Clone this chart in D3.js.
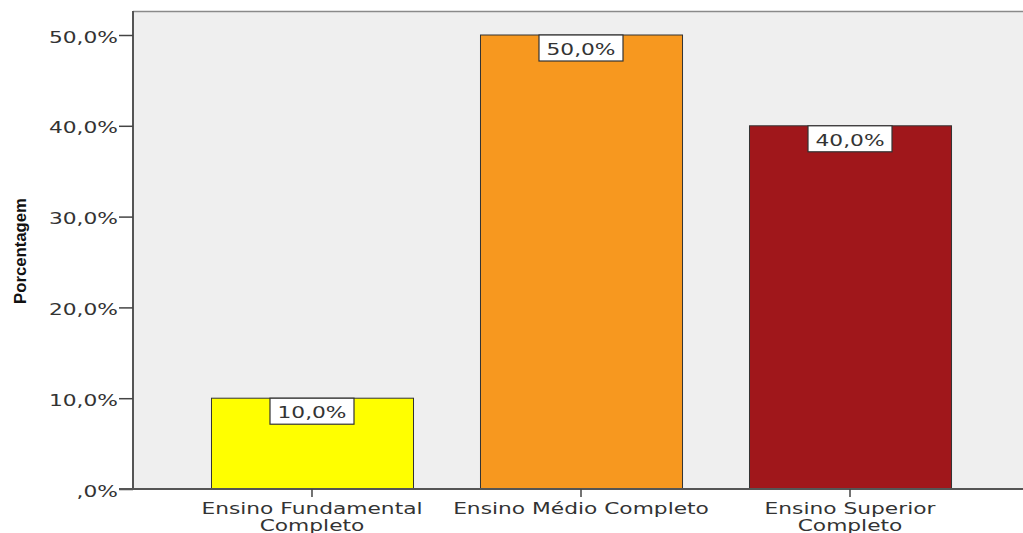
<!DOCTYPE html>
<html><head><meta charset="utf-8">
<script src="https://cdn.jsdelivr.net/npm/d3@7"></script>
<style>html,body{margin:0;padding:0;background:#fff;overflow:hidden}</style>
</head><body>
<svg id="c" width="1023" height="533"></svg>
<script>
const categories = [["Ensino Fundamental","Completo"],["Ensino Médio Completo"],["Ensino Superior","Completo"]];
const values = [10, 50, 40];
const colors = ["#ffff00", "#f7981f", "#a0171b"];
const yTicks = [0, 10, 20, 30, 40, 50];
const yTitle = "Porcentagem";

const fmt = v => (v === 0 ? "" : String(v)) + ",0%";
const SX = 1.45;
const FONT = "'DejaVu Sans', sans-serif";

const svg = d3.select("#c");
const L = 133, T = 11, B = 489, R = 1023;

const x = d3.scaleBand().domain(d3.range(values.length)).range([144, 1018]).paddingInner(0.249).paddingOuter(0.249);
const y = d3.scaleLinear().domain([0, 50]).range([B, 35]);

// plot background
svg.append("rect").attr("x", L).attr("y", T).attr("width", R - L + 5).attr("height", B - T).attr("fill", "#efefef");
svg.append("line").attr("x1", L).attr("x2", R).attr("y1", T + 0.5).attr("y2", T + 0.5).attr("stroke", "#8a8a8a").attr("stroke-width", 1.5);

// bars
svg.selectAll("rect.bar").data(values).join("rect").attr("class", "bar")
  .attr("x", (d, i) => x(i) + 0.5).attr("width", x.bandwidth())
  .attr("y", d => y(d)).attr("height", d => B - y(d))
  .attr("fill", (d, i) => colors[i]).attr("stroke", "#333").attr("stroke-width", 1);

// y axis
const ya = svg.append("g").attr("transform", `translate(${L},0)`)
  .call(d3.axisLeft(y).tickValues(yTicks).tickFormat(fmt).tickSize(14).tickPadding(0));
ya.select(".domain").attr("stroke", "#555").attr("stroke-width", 2).attr("d", `M0,${T}V${B}`);
ya.selectAll(".tick line").attr("stroke", "#444").attr("stroke-width", 1.5);
ya.selectAll(".tick text").attr("font-family", FONT).attr("font-size", 15).attr("fill", "#333")
  .attr("text-anchor", "end").attr("x", -15 / SX).attr("dy", null).attr("y", 7)
  .attr("transform", `scale(${SX},1)`);

// x axis
const xa = svg.append("g").attr("transform", `translate(0,${B})`)
  .call(d3.axisBottom(x).tickSize(8).tickFormat(""));
xa.select(".domain").attr("stroke", "#555").attr("stroke-width", 2).attr("d", `M119,0H${R}`);
xa.selectAll(".tick line").attr("stroke", "#444").attr("stroke-width", 1.5);

// category labels
categories.forEach((lines, i) => {
  const cx = x(i) + x.bandwidth() / 2;
  const g = svg.append("g").attr("transform", `translate(${cx},0) scale(${SX},1)`);
  lines.forEach((t, k) => {
    g.append("text").attr("x", 0).attr("y", 514 + k * 17).attr("text-anchor", "middle")
      .attr("font-family", FONT).attr("font-size", 15).attr("fill", "#333").text(t);
  });
});

// value labels
values.forEach((v, i) => {
  const cx = x(i) + x.bandwidth() / 2;
  const w = 84, h = 26;
  svg.append("rect").attr("x", cx - w / 2).attr("y", y(v)).attr("width", w).attr("height", h)
    .attr("fill", "#fff").attr("stroke", "#333").attr("stroke-width", 1.2);
  svg.append("g").attr("transform", `translate(${cx},${y(v) + 20}) scale(${SX},1)`)
    .append("text").attr("text-anchor", "middle").attr("font-family", FONT).attr("font-size", 15)
    .attr("fill", "#333").text(fmt(v));
});

// y title
svg.append("text").attr("transform", `translate(26,251) rotate(-90)`).attr("text-anchor", "middle")
  .attr("font-family", "'Liberation Sans', Arial, sans-serif").attr("font-weight", "bold").attr("font-size", 17)
  .attr("textLength", 106).attr("lengthAdjust", "spacingAndGlyphs").attr("fill", "#111").text(yTitle);
</script>
</body></html>
